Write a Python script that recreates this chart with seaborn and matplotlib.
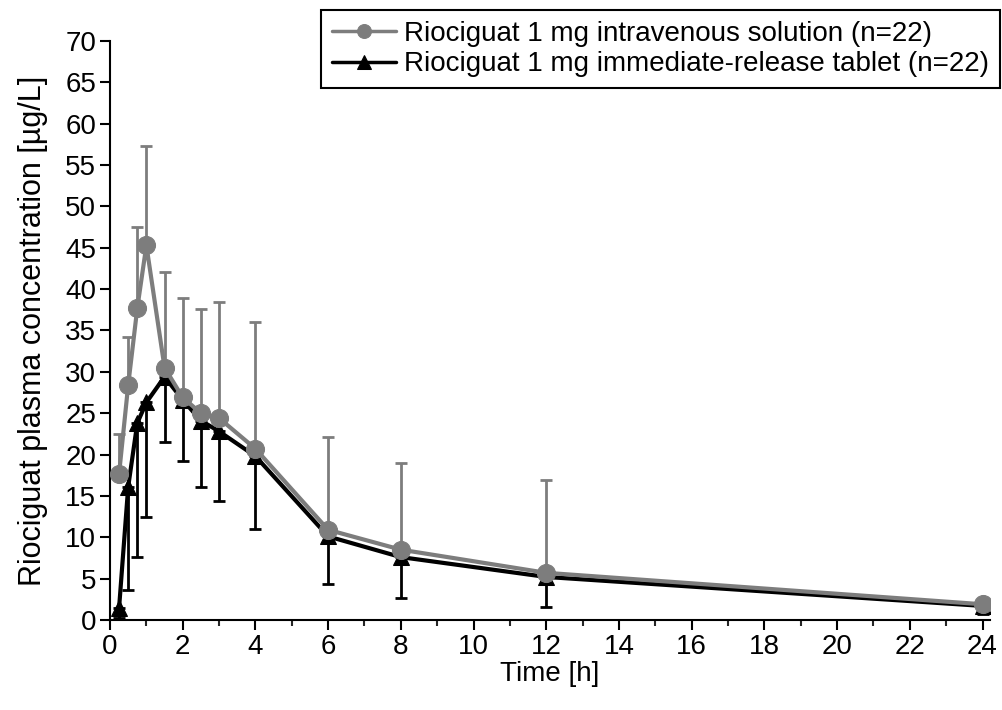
import numpy as np
import pandas as pd
import matplotlib
matplotlib.use("Agg")
import matplotlib.pyplot as plt
from matplotlib.ticker import MultipleLocator
import seaborn as sns

sns.set_theme(style="ticks")
plt.rcParams["font.family"] = ["Liberation Sans", "DejaVu Sans"]
plt.rcParams["text.color"] = "black"
plt.rcParams["axes.labelcolor"] = "black"

# ─── Data ────────────────────────────────────────────────────────
time_h = [0.25, 0.5, 0.75, 1.0, 1.5, 2, 2.5, 3, 4, 6, 8, 12, 24]

iv_mean = [17.7, 28.4, 37.7, 45.3, 30.5, 26.9, 25.0, 24.4, 20.7, 10.9, 8.5, 5.7, 1.9]
iv_upper = [22.5, 34.2, 47.5, 57.3, 42.1, 38.9, 37.6, 38.5, 36.0, 22.1, 19.0, 16.9, 2.3]

tab_mean = [1.5, 16.1, 23.8, 26.3, 29.4, 26.6, 24.1, 22.8, 19.8, 10.1, 7.6, 5.2, 1.7]
tab_lower = [0.2, 3.6, 7.6, 12.5, 21.5, 19.2, 16.1, 14.4, 11.0, 4.3, 2.7, 1.6, 0.7]

iv_label = "Riociguat 1 mg intravenous solution (n=22)"
tab_label = "Riociguat 1 mg immediate-release tablet (n=22)"

GRAY = "#7d7d7d"
BLACK = "#000000"

df = pd.DataFrame({
    "time": time_h * 2,
    "conc": iv_mean + tab_mean,
    "formulation": [iv_label] * len(time_h) + [tab_label] * len(time_h),
})

fig = plt.figure(figsize=(10.02, 7.10), dpi=100)
ax = fig.add_axes([0.1098, 0.1268, 0.878, 0.8155])

# error bars: tablet downward (black), IV upward (gray)
tab_err = np.array(tab_mean) - np.array(tab_lower)
ax.errorbar(time_h, tab_mean, yerr=[tab_err, np.zeros_like(tab_err)],
            fmt="none", ecolor=BLACK, elinewidth=2, capsize=4.5, capthick=2, zorder=2)
iv_err = np.array(iv_upper) - np.array(iv_mean)
ax.errorbar(time_h, iv_mean, yerr=[np.zeros_like(iv_err), iv_err],
            fmt="none", ecolor=GRAY, elinewidth=2, capsize=4.5, capthick=2, zorder=2)

sns.lineplot(data=df[df["formulation"] == tab_label], x="time", y="conc",
             color=BLACK, marker="^", markersize=12, markeredgecolor=BLACK,
             linewidth=3, label=tab_label, ax=ax, zorder=3)
sns.lineplot(data=df[df["formulation"] == iv_label], x="time", y="conc",
             color=GRAY, marker="o", markersize=13, markeredgecolor=GRAY,
             linewidth=3, label=iv_label, ax=ax, zorder=4)

ax.set_xlim(0, 24.2)
ax.set_ylim(0, 70)
ax.xaxis.set_major_locator(MultipleLocator(2))
ax.xaxis.set_minor_locator(MultipleLocator(1))
ax.yaxis.set_major_locator(MultipleLocator(5))
ax.tick_params(axis="both", which="major", length=7, width=1.5, labelsize=20,
               colors="black", pad=3)
ax.tick_params(axis="x", which="minor", length=4, width=1.5)
for side in ["top", "right"]:
    ax.spines[side].set_visible(False)
for side in ["left", "bottom"]:
    ax.spines[side].set_linewidth(1.5)
    ax.spines[side].set_color("black")

ax.set_xlabel("Time [h]", fontsize=20, labelpad=1)
ax.set_ylabel("Riociguat plasma concentration [µg/L]", fontsize=22, labelpad=12)

handles, labels = ax.get_legend_handles_labels()
order = [labels.index(iv_label), labels.index(tab_label)]
leg = ax.legend([handles[i] for i in order], [labels[i] for i in order],
                loc="upper right", bbox_to_anchor=(1000 / 1002, 1 - 10 / 710),
                bbox_transform=fig.transFigure, borderaxespad=0, fontsize=20,
                frameon=True, fancybox=False, edgecolor="black", framealpha=1,
                handlelength=2.3, handletextpad=0.3, borderpad=0.4, labelspacing=0.15)
leg.get_frame().set_linewidth(1.5)
for h in leg.legend_handles:
    h.set_markersize(10)
    h.set_linewidth(2.5)

fig.savefig("out.png", dpi=100, facecolor="white")
